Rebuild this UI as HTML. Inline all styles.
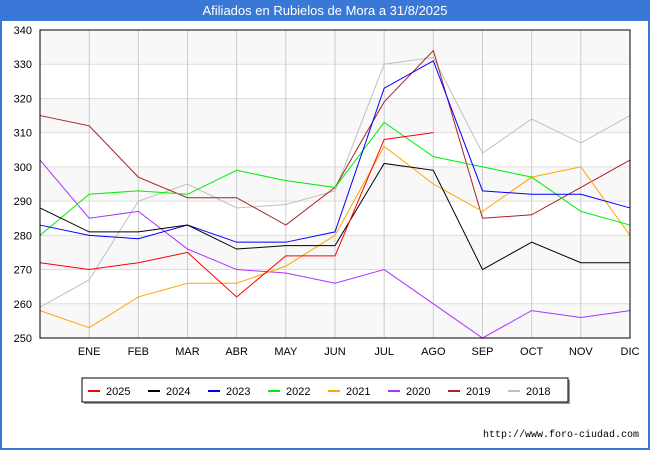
<!DOCTYPE html>
<html><head><meta charset="utf-8"><style>
body{margin:0;width:650px;height:450px;background:#fff;font-family:"Liberation Sans",sans-serif;overflow:hidden}
</style></head><body>
<svg width="650" height="450" id="c" font-family="Liberation Sans, sans-serif">
<rect x="0" y="0" width="650" height="450" fill="#fff"/>
<rect x="0" y="0" width="650" height="20" fill="#3a78d8"/>
<text x="325" y="15" text-anchor="middle" fill="#fff" font-size="13">Afiliados en Rubielos de Mora a 31/8/2025</text>
<rect x="1" y="20" width="648" height="429" fill="none" stroke="#3a78d8" stroke-width="2"/>
<g id="grid"></g><g id="series"></g>
<rect x="40" y="30" width="590" height="308" fill="none" stroke="#000"/>
<g>
<rect x="84" y="380" width="486" height="24" fill="#999"/>
<rect x="82" y="378" width="486" height="24" fill="#fff" stroke="#000"/>
<g id="leg"></g></g>
<text x="639" y="437" text-anchor="end" font-size="10" font-family="Liberation Mono, monospace">http://www.foro-ciudad.com</text>
</svg>
<script>
const months=["","ENE","FEB","MAR","ABR","MAY","JUN","JUL","AGO","SEP","OCT","NOV","DIC"];
const yTicks=[250,260,270,280,290,300,310,320,330,340];
const names=["2025","2024","2023","2022","2021","2020","2019","2018"];
const colors=["#ff0000","#000000","#0000ff","#00ee00","#ffa500","#aa33ff","#aa2222","#c0c0c0"];
const s2025=[272,270,272,275,262,274,274,308,310];
const s2024=[288,281,281,283,276,277,277,301,299,270,278,272,272];
const s2023=[283,280,279,283,278,278,281,323,331,293,292,292,288];
const s2022=[280,292,293,292,299,296,294,313,303,300,297,287,283];
const s2021=[258,253,262,266,266,271,280,306,295,287,297,300,280];
const s2020=[302,285,287,276,270,269,266,270,260,250,258,256,258];
const s2019=[315,312,297,291,291,283,294,319,334,285,286,294,302];
const s2018=[259,267,290,295,288,289,293,330,332,304,314,307,315];
const data=[s2025,s2024,s2023,s2022,s2021,s2020,s2019,s2018];
const NS="http://www.w3.org/2000/svg";
const X=i=>40+i*590/12, Y=v=>338-(v-250)*308/90;
function mk(t,a,p){const e=document.createElementNS(NS,t);for(const k in a)e.setAttribute(k,a[k]);p.appendChild(e);return e;}
const g=document.getElementById('grid');
for(let i=0;i<yTicks.length-1;i++){const r=mk('rect',{x:40,y:Y(yTicks[i+1]),width:590,height:Y(yTicks[i])-Y(yTicks[i+1]),fill:i%2==0?'#f8f8f8':'#ffffff'},g);}
yTicks.forEach(v=>{const l=mk('line',{x1:40,x2:630,y1:Y(v),y2:Y(v),stroke:'#ddd'},g);
const t=mk('text',{x:32,y:Y(v)+4,'text-anchor':'end','font-size':11},g);t.textContent=v;

});
months.forEach((m,i)=>{if(!i)return;mk('line',{x1:X(i),x2:X(i),y1:30,y2:338,stroke:'#ccc'},g);
const t=mk('text',{x:X(i),y:355,'text-anchor':'middle','font-size':11},g);t.textContent=m;

});
const sg=document.getElementById('series');
data.slice().reverse().forEach((d,ri)=>{const k=data.length-1-ri;
const p=mk('polyline',{points:d.map((v,i)=>X(i)+','+Y(v)).join(' '),fill:'none',stroke:colors[k],'stroke-width':1},sg);

});
const lg=document.getElementById('leg');
names.forEach((n,i)=>{const x=88+i*60;
const e=mk('g',{},lg);


mk('line',{x1:x,x2:x+12,y1:391,y2:391,stroke:colors[i],'stroke-width':2},e);
const t=mk('text',{x:x+18,y:395,'font-size':11},e);t.textContent=n;});
</script>
</body></html>
